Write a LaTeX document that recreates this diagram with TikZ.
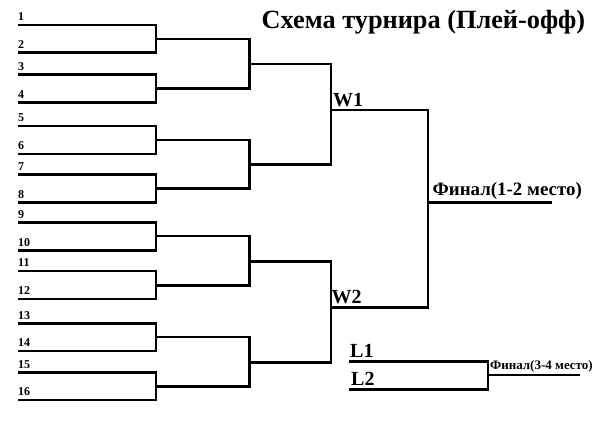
\documentclass[tikz,border=0pt]{standalone}
\usepackage{fontspec}
\setmainfont{Liberation Serif}
\begin{document}
\begin{tikzpicture}[x=1pt,y=-1pt,
  bline/.style={line width=2.8pt,line cap=rect,line join=miter},
  num/.style={font=\bfseries\fontsize{12}{14}\selectfont,anchor=base west,inner sep=0pt},
  big/.style={font=\bfseries\fontsize{20}{22}\selectfont,anchor=base west,inner sep=0pt},
  ttl/.style={font=\bfseries\fontsize{26.3}{28}\selectfont,anchor=base west,inner sep=0pt}]
\useasboundingbox[fill=white] (0,0) rectangle (604,432);
% players
\foreach \i/\y in {1/25,2/52.7,3/74.3,4/102.3,5/126,6/154,7/174.7,8/202.3,9/222.7,10/250.7,11/271,12/299,13/323.3,14/351,15/372.3,16/400}{
  \coordinate (s\i) at (19,\y);
  \coordinate (e\i) at (156,\y);
  \node[num] (n\i) at (18,\y-4.3) {\i};
}
% round 1 junctions
\foreach \k/\y in {1/38.9,2/88.3,3/140,4/188.5,5/236,6/285.5,7/337,8/386.5}{
  \coordinate (j\k) at (156,\y);
  \coordinate (a\k) at (249.5,\y);
}
\foreach \a/\b/\k in {1/2/1,3/4/2,5/6/3,7/8/4,9/10/5,11/12/6,13/14/7,15/16/8}{
  \draw[bline] (s\a) -- (e\a) -- (e\b) -- (s\b);
  \draw[bline] (j\k) -- (a\k);
}
% round 2
\foreach \k/\y in {1/64,2/164.3,3/261.5,4/362.3}{
  \coordinate (b\k) at (249.5,\y);
  \coordinate (c\k) at (331,\y);
  \draw[bline] (b\k) -- (c\k);
}
\draw[bline] (a1) -- (a2);
\draw[bline] (a3) -- (a4);
\draw[bline] (a5) -- (a6);
\draw[bline] (a7) -- (a8);
% round 3
\coordinate (w1) at (331,110);
\coordinate (w2) at (331,307.3);
\coordinate (f1) at (428,110);
\coordinate (f2) at (428,307.3);
\draw[bline] (c1) -- (c2);
\draw[bline] (c3) -- (c4);
\draw[bline] (w1) -- (f1) -- (f2) -- (w2);
% final
\coordinate (fa) at (428,202.3);
\coordinate (fb) at (551,202.3);
\draw[bline] (fa) -- (fb);
% third place
\coordinate (l1s) at (350,361.7);
\coordinate (l1e) at (488,361.7);
\coordinate (l2s) at (350,389.3);
\coordinate (l2e) at (488,389.3);
\coordinate (ta) at (488,375);
\coordinate (tb) at (579,375);
\draw[bline] (l1s) -- (l1e) -- (l2e) -- (l2s);
\draw[bline] (ta) -- (tb);
% labels
\node[ttl] (title) at (261.5,28.5) {Схема турнира (Плей-офф)};
\node[big] (lw1) at (333,106) {W1};
\node[big] (lw2) at (331.5,303.3) {W2};
\node[big] (ll1) at (350,357.3) {L1};
\node[big] (ll2) at (351,385) {L2};
\node[font=\bfseries\fontsize{18.9}{20}\selectfont,anchor=base west,inner sep=0pt] (fin1) at (432.5,195) {Финал(1-2 место)};
\node[font=\bfseries\fontsize{13}{15}\selectfont,anchor=base west,inner sep=0pt] (fin2) at (490,369.5) {Финал(3-4 место)};
\end{tikzpicture}
\end{document}
